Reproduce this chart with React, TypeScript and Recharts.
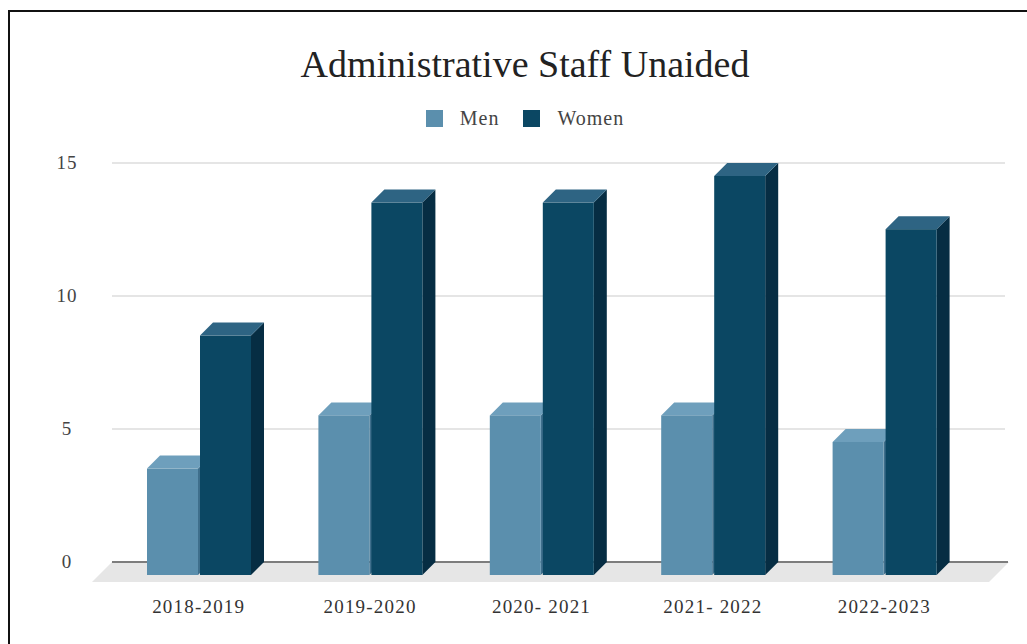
import { Bar, BarChart, CartesianGrid, XAxis, YAxis } from "recharts";

const categories = ["2018-2019", "2019-2020", "2020- 2021", "2021- 2022", "2022-2023"];
const men = [4, 6, 6, 6, 5];
const women = [9, 14, 14, 15, 13];
const yTicks = [0, 5, 10, 15];
const seriesNames = ["Men", "Women"];

const data = categories.map((c, i) => ({ name: c, men: men[i], women: women[i] }));

const DEPTH = 13;
const FONT = "'Liberation Serif', 'DejaVu Serif', serif";

const palette = {
  men: { front: "#5b8fad", top: "#6e9fbc", side: "#3f6f8c" },
  women: { front: "#0b4763", top: "#2e6483", side: "#062d43" },
};

function Box3D(props: any) {
  const { x, y, width, height, colors } = props;
  if (!height || height <= 0) return null;
  const d = DEPTH;
  const fx = x - d;
  const fy = y + d;
  return (
    <g>
      <polygon
        points={`${fx + width},${fy} ${x + width},${y} ${x + width},${y + height} ${fx + width},${fy + height}`}
        fill={colors.side}
      />
      <polygon points={`${fx},${fy} ${x},${y} ${x + width},${y} ${fx + width},${fy}`} fill={colors.top} />
      <rect x={fx} y={fy} width={width} height={height} fill={colors.front} />
    </g>
  );
}

// grid lines; the bottom one (value 0) also gets the grey floor under the bars
function GridLine(props: any) {
  const { x1, x2, y1, index } = props;
  if (index === 0 || y1 > 500) {
    const d = 20;
    return (
      <g>
        <polygon
          points={`${x1},${y1} ${x2 + 4},${y1} ${x2 + 4 - d},${y1 + d} ${x1 - d},${y1 + d}`}
          fill="#e6e6e6"
        />
        <line x1={x1} y1={y1} x2={x2 + 3} y2={y1} stroke="#7d7d7d" strokeWidth={2} />
      </g>
    );
  }
  return <line x1={x1} y1={y1} x2={x2} y2={y1} stroke="#dcdcdc" strokeWidth={1.5} />;
}

function YTick(props: any) {
  const { y, payload } = props;
  return (
    <text x={67} y={y} dy={6} textAnchor="middle" fontFamily={FONT} fontSize={19} letterSpacing={1} fill="#444">
      {payload.value}
    </text>
  );
}

function XTick(props: any) {
  const { x, y, payload } = props;
  return (
    <text
      x={x - DEPTH}
      y={y + 43}
      textAnchor="middle"
      fontFamily={FONT}
      fontSize={19}
      letterSpacing={1.2}
      fill="#333"
    >
      {payload.value}
    </text>
  );
}

export default function App() {
  return (
    <div style={{ position: "fixed", left: 0, top: 0, width: 1027, height: 644, overflow: "hidden", background: "#fff" }}>
      <div
        style={{
          position: "absolute",
          left: 8,
          top: 10,
          width: 1100,
          height: 700,
          borderTop: "2px solid #111",
          borderLeft: "2px solid #111",
        }}
      />
      <div
        style={{
          position: "absolute",
          left: 0,
          top: 41,
          width: 1050,
          textAlign: "center",
          fontFamily: FONT,
          fontSize: 38,
          color: "#222",
          lineHeight: "46px",
        }}
      >
        Administrative Staff Unaided
      </div>
      <div
        style={{
          position: "absolute",
          left: 0,
          top: 105,
          width: 1050,
          display: "flex",
          justifyContent: "center",
          gap: 24,
          fontFamily: FONT,
          fontSize: 20,
          letterSpacing: 1,
          color: "#444",
          lineHeight: "26px",
        }}
      >
        {seriesNames.map((s, i) => (
          <span key={s} style={{ display: "flex", alignItems: "center" }}>
            <span
              style={{
                display: "inline-block",
                width: 17,
                height: 17,
                background: i === 0 ? palette.men.front : palette.women.front,
                marginRight: 17,
              }}
            />
            {s}
          </span>
        ))}
      </div>
      <div style={{ position: "absolute", left: 0, top: 0 }}>
        <BarChart
          width={1027}
          height={644}
          data={data}
          margin={{ top: 163, right: 22, left: 62, bottom: 32 }}
          barSize={51}
          barGap={2}
        >
          <CartesianGrid vertical={false} horizontal={(p: any) => <GridLine {...p} />} />
          <XAxis
            dataKey="name"
            axisLine={false}
            tickLine={false}
            height={50}
            padding={{ left: 14, right: 22 }}
            tick={(p: any) => <XTick {...p} />}
          />
          <YAxis
            domain={[0, 15]}
            ticks={yTicks}
            axisLine={false}
            tickLine={false}
            width={50}
            tick={(p: any) => <YTick {...p} />}
          />
          <Bar dataKey="men" isAnimationActive={false} shape={(p: any) => <Box3D {...p} colors={palette.men} />} />
          <Bar dataKey="women" isAnimationActive={false} shape={(p: any) => <Box3D {...p} colors={palette.women} />} />
        </BarChart>
      </div>
    </div>
  );
}
